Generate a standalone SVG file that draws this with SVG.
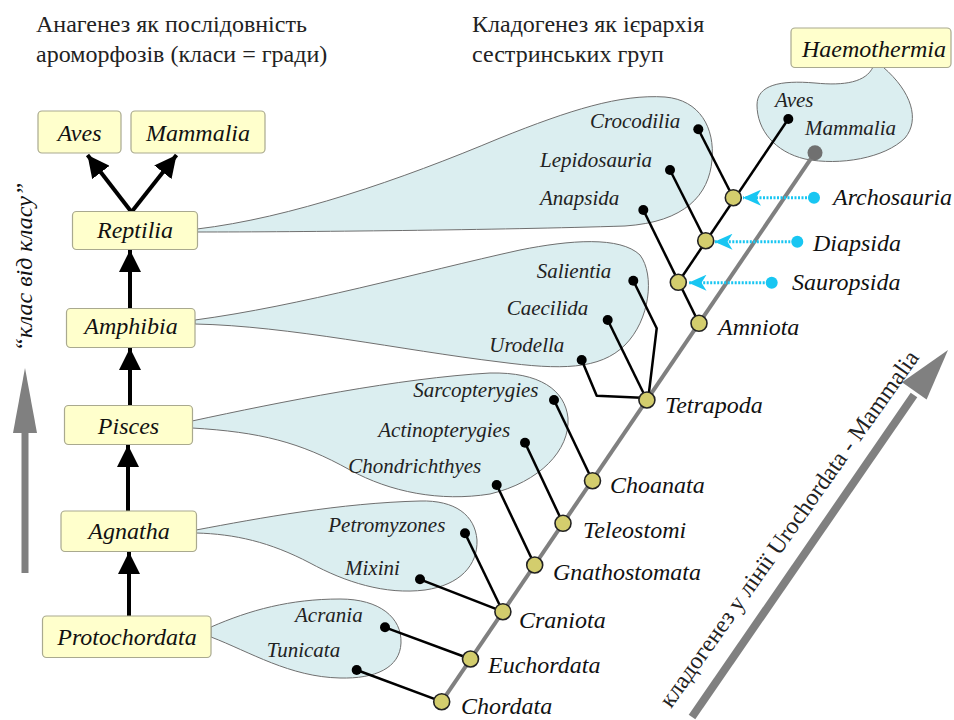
<svg xmlns="http://www.w3.org/2000/svg" width="954" height="720" viewBox="0 0 954 720">
<style>
.hdr{font-family:"Liberation Serif","DejaVu Serif",serif;font-size:24px;fill:#222}
.box{fill:#ffffcc;stroke:#a9a98f;stroke-width:1.2}
.bt{font-family:"Liberation Serif","DejaVu Serif",serif;font-style:italic;font-size:24px;fill:#111;text-anchor:middle}
.blob{fill:#dbeef0;stroke:#6f6f6f;stroke-width:1}
.leaf{font-family:"Liberation Serif","DejaVu Serif",serif;font-style:italic;font-size:21px;fill:#222}
.clade{font-family:"Liberation Serif","DejaVu Serif",serif;font-style:italic;font-size:24px;fill:#111}
.br{stroke:#000;stroke-width:2.5;fill:none;stroke-linejoin:round}
.trunk{stroke:#808080;stroke-width:4}
.node{fill:#d3cd6d;stroke:#222;stroke-width:1.6}
.dot{fill:#000}
.arr{stroke:#000;stroke-width:4}
.cy{stroke:#18c6f2;stroke-width:3;stroke-dasharray:2 1.5}
.cyd{fill:#18c6f2}
.grey{fill:#808080}
</style>
<defs>
<marker id="ah" markerUnits="userSpaceOnUse" markerWidth="22" markerHeight="22" refX="22" refY="11" orient="auto" viewBox="0 0 22 22">
<path d="M0,0 L22,11 L0,22 Z" fill="#000"/>
</marker>
<marker id="ch" markerUnits="userSpaceOnUse" markerWidth="18" markerHeight="16" refX="18" refY="8" orient="auto" viewBox="0 0 18 16">
<path d="M0,0 L18,8 L0,16 L5,8 Z" fill="#18c6f2"/>
</marker>
</defs>

<!-- headers -->
<text class="hdr" x="36" y="32">Анагенез як послідовність</text>
<text class="hdr" x="36" y="62">ароморфозів (класи = гради)</text>
<text class="hdr" x="472" y="32">Кладогенез як ієрархія</text>
<text class="hdr" x="472" y="62">сестринських груп</text>

<!-- blobs -->
<g id="blobs">
<path class="blob" d="M197,229 C 290,218 400,180 500,138 C 570,110 620,94 665,97 C 700,100 715,128 712,160 C 709,195 685,222 625,226 C 500,230 300,232 197,232 Z"/>
<path class="blob" d="M195,320 C 300,306 420,272 520,250 C 570,240 620,236 640,255 C 655,275 650,320 625,345 C 600,370 560,370 500,362 C 400,350 290,326 195,324 Z"/>
<path class="blob" d="M192,421 C 280,402 400,378 490,373 C 540,372 565,390 568,418 C 570,450 540,482 490,494 C 440,502 390,492 350,470 C 300,442 260,432 192,428 Z"/>
<path class="blob" d="M196,530 C 260,518 340,503 420,501 C 455,500 475,515 477,540 C 478,565 460,585 425,590 C 385,595 345,582 310,563 C 270,542 235,534 196,533 Z"/>
<path class="blob" d="M211,627 C 250,610 290,599 340,599 C 380,599 402,618 401,643 C 400,668 375,679 340,678 C 290,677 250,652 211,637 Z"/>
<path class="blob" d="M873,67 C 866,82 845,86 815,83 C 780,80 757,85 757,105 C 757,130 775,152 805,159 C 840,166 885,158 905,138 C 920,120 912,92 883,67 Z"/>
</g>

<!-- vertical label and grey arrows -->
<g id="side-arrow">
<rect class="grey" x="21.5" y="430" width="7" height="143"/>
<path class="grey" d="M25,368 L37,433 L13,433 Z"/>
<text class="bt" transform="translate(32,267) rotate(-90)">“клас від класу”</text>
</g>
<g id="diag-arrow">
<line x1="692" y1="717" x2="914" y2="395" stroke="#808080" stroke-width="8"/>
<path class="grey" d="M948,350 L926.6,399.5 L902,382.3 Z"/>
<text class="hdr" transform="translate(671,709) rotate(-54.7)">кладогенез у лінії Urochordata - Mammalia</text>
</g>

<!-- connectors -->
<g id="connectors">
<line class="arr" x1="130" y1="308" x2="130" y2="250" marker-end="url(#ah)"/>
<line class="arr" x1="130" y1="405" x2="130" y2="348" marker-end="url(#ah)"/>
<line class="arr" x1="128" y1="511" x2="128" y2="445" marker-end="url(#ah)"/>
<line class="arr" x1="129" y1="616" x2="129" y2="552" marker-end="url(#ah)"/>
<line class="arr" x1="131.5" y1="212" x2="87.5" y2="155" marker-end="url(#ah)"/>
<line class="arr" x1="131.5" y1="212" x2="176.5" y2="155" marker-end="url(#ah)"/>

<line class="trunk" x1="441.7" y1="701.7" x2="815" y2="152.7"/>
<line class="br" x1="356.7" y1="670" x2="441.7" y2="701.7"/>
<line class="br" x1="385" y1="627.3" x2="470.5" y2="659"/>
<line class="br" x1="420" y1="579.3" x2="502.9" y2="611.7"/>
<line class="br" x1="465" y1="533.3" x2="502.9" y2="611.7"/>
<line class="br" x1="496.7" y1="485" x2="534.7" y2="565"/>
<line class="br" x1="525" y1="442.7" x2="563" y2="523.3"/>
<line class="br" x1="554" y1="400" x2="592.5" y2="480.7"/>
<polyline class="br" points="581.7,360 596.7,395.7 646.9,398"/>
<line class="br" x1="607.7" y1="320" x2="646.9" y2="400"/>
<polyline class="br" points="633.3,280.7 656.7,328.3 648.3,398"/>
<line class="br" x1="643.3" y1="210" x2="699" y2="323.3"/>
<line class="br" x1="678.3" y1="282.3" x2="788.3" y2="119"/>
<line class="br" x1="670" y1="170" x2="705.7" y2="240.7"/>
<line class="br" x1="698.3" y1="129.3" x2="733.3" y2="197.7"/>

<line class="cy" x1="814" y1="197.7" x2="743" y2="197.7" marker-end="url(#ch)"/>
<line class="cy" x1="797.3" y1="241.7" x2="714.5" y2="241.7" marker-end="url(#ch)"/>
<line class="cy" x1="771.7" y1="282.7" x2="688.5" y2="282.7" marker-end="url(#ch)"/>
<circle class="cyd" cx="814" cy="197.7" r="6"/>
<circle class="cyd" cx="797.3" cy="241.7" r="6"/>
<circle class="cyd" cx="771.7" cy="282.7" r="6"/>
</g>

<!-- left boxes -->
<g id="aves-box"><rect class="box" x="38" y="111" width="83" height="42" rx="4"/><text class="bt" x="79.5" y="141">Aves</text></g>
<g id="mammalia-box"><rect class="box" x="131" y="111" width="134" height="42" rx="4"/><text class="bt" x="198" y="141">Mammalia</text></g>
<g id="reptilia-box"><rect class="box" x="72.5" y="211.5" width="125" height="38" rx="4"/><text class="bt" x="135" y="238">Reptilia</text></g>
<g id="amphibia-box"><rect class="box" x="66.5" y="308.5" width="128.5" height="39" rx="4"/><text class="bt" x="131" y="333.5">Amphibia</text></g>
<g id="pisces-box"><rect class="box" x="64.5" y="405.5" width="128" height="39" rx="4"/><text class="bt" x="128.5" y="434">Pisces</text></g>
<g id="agnatha-box"><rect class="box" x="61" y="511" width="135.5" height="40.5" rx="4"/><text class="bt" x="129" y="538.5">Agnatha</text></g>
<g id="protochordata-box"><rect class="box" x="42.5" y="616" width="168.5" height="41.5" rx="4"/><text class="bt" x="127" y="645">Protochordata</text></g>
<g id="haemothermia-box"><rect class="box" x="791" y="28" width="160" height="39.5" rx="4"/><text class="bt" x="874" y="56.5">Haemothermia</text></g>

<!-- leaves -->
<g id="leaf-aves"><circle class="dot" cx="788.3" cy="119" r="5"/><text class="leaf" x="775" y="107">Aves</text></g>
<g id="leaf-mammalia"><circle cx="815" cy="152.7" r="7.5" fill="#707070"/><text class="leaf" x="805" y="135">Mammalia</text></g>
<g id="leaf-crocodilia"><circle class="dot" cx="698.3" cy="129.3" r="5"/><text class="leaf" x="590" y="128">Crocodilia</text></g>
<g id="leaf-lepidosauria"><circle class="dot" cx="670" cy="170" r="5"/><text class="leaf" x="540" y="167">Lepidosauria</text></g>
<g id="leaf-anapsida"><circle class="dot" cx="643.3" cy="210" r="5"/><text class="leaf" x="540" y="205">Anapsida</text></g>
<g id="leaf-salientia"><circle class="dot" cx="633.3" cy="280.7" r="5"/><text class="leaf" x="536.7" y="278.3">Salientia</text></g>
<g id="leaf-caecilida"><circle class="dot" cx="607.7" cy="320" r="5"/><text class="leaf" x="506.7" y="315">Caecilida</text></g>
<g id="leaf-urodella"><circle class="dot" cx="581.7" cy="360" r="5"/><text class="leaf" x="489.3" y="351.7">Urodella</text></g>
<g id="leaf-sarcopterygies"><circle class="dot" cx="554" cy="400" r="5"/><text class="leaf" x="413.3" y="396.7">Sarcopterygies</text></g>
<g id="leaf-actinopterygies"><circle class="dot" cx="525" cy="442.7" r="5"/><text class="leaf" x="378.3" y="436.7">Actinopterygies</text></g>
<g id="leaf-chondrichthyes"><circle class="dot" cx="496.7" cy="485" r="5"/><text class="leaf" x="348.3" y="473.3">Chondrichthyes</text></g>
<g id="leaf-petromyzones"><circle class="dot" cx="465" cy="533.3" r="5"/><text class="leaf" x="328.3" y="531.7">Petromyzones</text></g>
<g id="leaf-mixini"><circle class="dot" cx="420" cy="579.3" r="5"/><text class="leaf" x="345" y="575">Mixini</text></g>
<g id="leaf-acrania"><circle class="dot" cx="385" cy="627.3" r="5"/><text class="leaf" x="295" y="621.7">Acrania</text></g>
<g id="leaf-tunicata"><circle class="dot" cx="356.7" cy="670" r="5"/><text class="leaf" x="266.7" y="656.7">Tunicata</text></g>

<!-- clade nodes -->
<g id="chordata"><circle class="node" cx="441.7" cy="701.7" r="8"/><text class="clade" x="461" y="714">Chordata</text></g>
<g id="euchordata"><circle class="node" cx="470.5" cy="659" r="8"/><text class="clade" x="488" y="673">Euchordata</text></g>
<g id="craniota"><circle class="node" cx="502.9" cy="611.7" r="8"/><text class="clade" x="519" y="628">Craniota</text></g>
<g id="gnathostomata"><circle class="node" cx="534.7" cy="565" r="8"/><text class="clade" x="553" y="580">Gnathostomata</text></g>
<g id="teleostomi"><circle class="node" cx="563" cy="523.3" r="8"/><text class="clade" x="583" y="538">Teleostomi</text></g>
<g id="choanata"><circle class="node" cx="592.5" cy="480.7" r="8"/><text class="clade" x="610" y="493">Choanata</text></g>
<g id="tetrapoda"><circle class="node" cx="646.9" cy="400" r="8"/><text class="clade" x="665" y="413">Tetrapoda</text></g>
<g id="amniota"><circle class="node" cx="699" cy="323.3" r="8"/><text class="clade" x="718" y="335">Amniota</text></g>
<g id="sauropsida"><circle class="node" cx="678.3" cy="282.3" r="8"/><text class="clade" x="792" y="290">Sauropsida</text></g>
<g id="diapsida"><circle class="node" cx="705.7" cy="240.7" r="8"/><text class="clade" x="813" y="250.5">Diapsida</text></g>
<g id="archosauria"><circle class="node" cx="733.3" cy="197.7" r="8"/><text class="clade" x="833" y="205">Archosauria</text></g>
</svg>
